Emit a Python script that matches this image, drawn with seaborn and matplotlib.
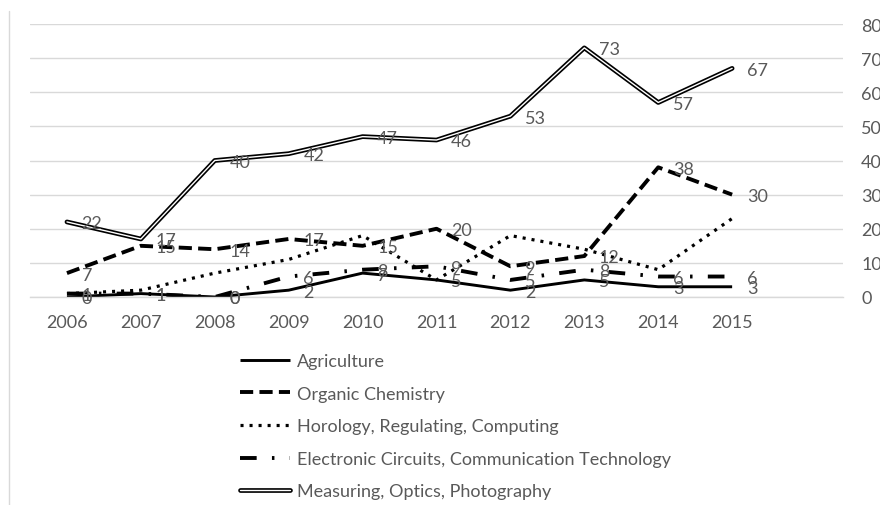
import matplotlib
matplotlib.use("Agg")
import matplotlib.pyplot as plt
import matplotlib.patheffects as pe
from matplotlib.lines import Line2D
import seaborn as sns
import pandas as pd

years = [2006, 2007, 2008, 2009, 2010, 2011, 2012, 2013, 2014, 2015]
agriculture = [0, 1, 0, 2, 7, 5, 2, 5, 3, 3]
organic_chem = [7, 15, 14, 17, 15, 20, 9, 12, 38, 30]
horology = [1, 2, 7, 11, 18, 5, 18, 14, 8, 23]
electronic = [1, 1, 0, 6, 8, 9, 5, 8, 6, 6]
measuring = [22, 17, 40, 42, 47, 46, 53, 73, 57, 67]

series_names = ["Agriculture", "Organic Chemistry", "Horology, Regulating, Computing",
                "Electronic Circuits, Communication Technology", "Measuring, Optics, Photography"]
series_values = [agriculture, organic_chem, horology, electronic, measuring]
show_labels = [True, True, False, True, True]
y_ticks = [0, 10, 20, 30, 40, 50, 60, 70, 80]

sns.set_theme(style="white")
plt.rcParams["font.family"] = ["Lato", "DejaVu Sans"]
plt.rcParams["lines.scale_dashes"] = False

GRAY = "#595959"
FS = 13
styles = [
    dict(color="black", linewidth=2.1, linestyle="-", solid_capstyle="butt"),
    dict(color="black", linewidth=2.8, linestyle=(0, (9.5, 4.5)), dash_capstyle="butt"),
    dict(color="black", linewidth=2.3, linestyle=(0, (2.2, 4.3)), dash_capstyle="butt"),
    dict(color="black", linewidth=2.8, linestyle=(0, (12, 11, 1.8, 11)), dash_capstyle="butt"),
    dict(color="white", linewidth=1.0, linestyle="-",
         path_effects=[pe.Stroke(linewidth=3.4, foreground="black"), pe.Normal()]),
]

fig = plt.figure(figsize=(8.8, 5.06), dpi=100)
ax = fig.add_axes([30 / 880, 1 - 298 / 506, (843 - 30) / 880, (298 - 25) / 506])

rows = []
for name, vals in zip(series_names, series_values):
    for yr, v in zip(years, vals):
        rows.append({"Year": yr, "Count": v, "Series": name})
df = pd.DataFrame(rows)

for name, st in zip(series_names, styles):
    sub = df[df["Series"] == name]
    sns.lineplot(data=sub, x="Year", y="Count", ax=ax, label=name, **st)

for name, show in zip(series_names, show_labels):
    if not show:
        continue
    sub = df[df["Series"] == name]
    for yr, v in zip(sub["Year"], sub["Count"]):
        ax.annotate(str(v), (yr, v), xytext=(10.5, -1), textcoords="offset points",
                    ha="left", va="center", fontsize=FS, color=GRAY)

ax.set_xlim(years[0] - 0.5, years[-1] + 1.5)
ax.set_ylim(0, 80)
ax.set_xticks(years)
ax.set_xticklabels([str(y) for y in years])
ax.set_yticks(y_ticks)
ax.yaxis.tick_right()
ax.tick_params(axis="y", length=0, pad=13, labelsize=FS, labelcolor=GRAY)
ax.tick_params(axis="x", length=0, pad=12, labelsize=FS, labelcolor=GRAY)
ax.grid(axis="y", color="#D9D9D9", linewidth=1)
ax.set_axisbelow(True)
for s in ["top", "left", "right"]:
    ax.spines[s].set_visible(False)
ax.spines["bottom"].set_color("#D9D9D9")
ax.spines["bottom"].set_linewidth(1)
ax.set_xlabel("")
ax.set_ylabel("")

handles, labels = ax.get_legend_handles_labels()
ax.legend(handles, labels, loc="upper left", bbox_to_anchor=(240 / 880, 1 - 354 / 506),
          bbox_transform=fig.transFigure, frameon=False, borderpad=0, borderaxespad=0,
          handlelength=2.78, handletextpad=0.39, labelspacing=0.92, fontsize=FS,
          labelcolor=GRAY)

fig.add_artist(Line2D([9 / 880, 9 / 880], [0, 1 - 12 / 506], transform=fig.transFigure,
                      color="#D9D9D9", linewidth=1))

fig.savefig("out.png", dpi=100)
